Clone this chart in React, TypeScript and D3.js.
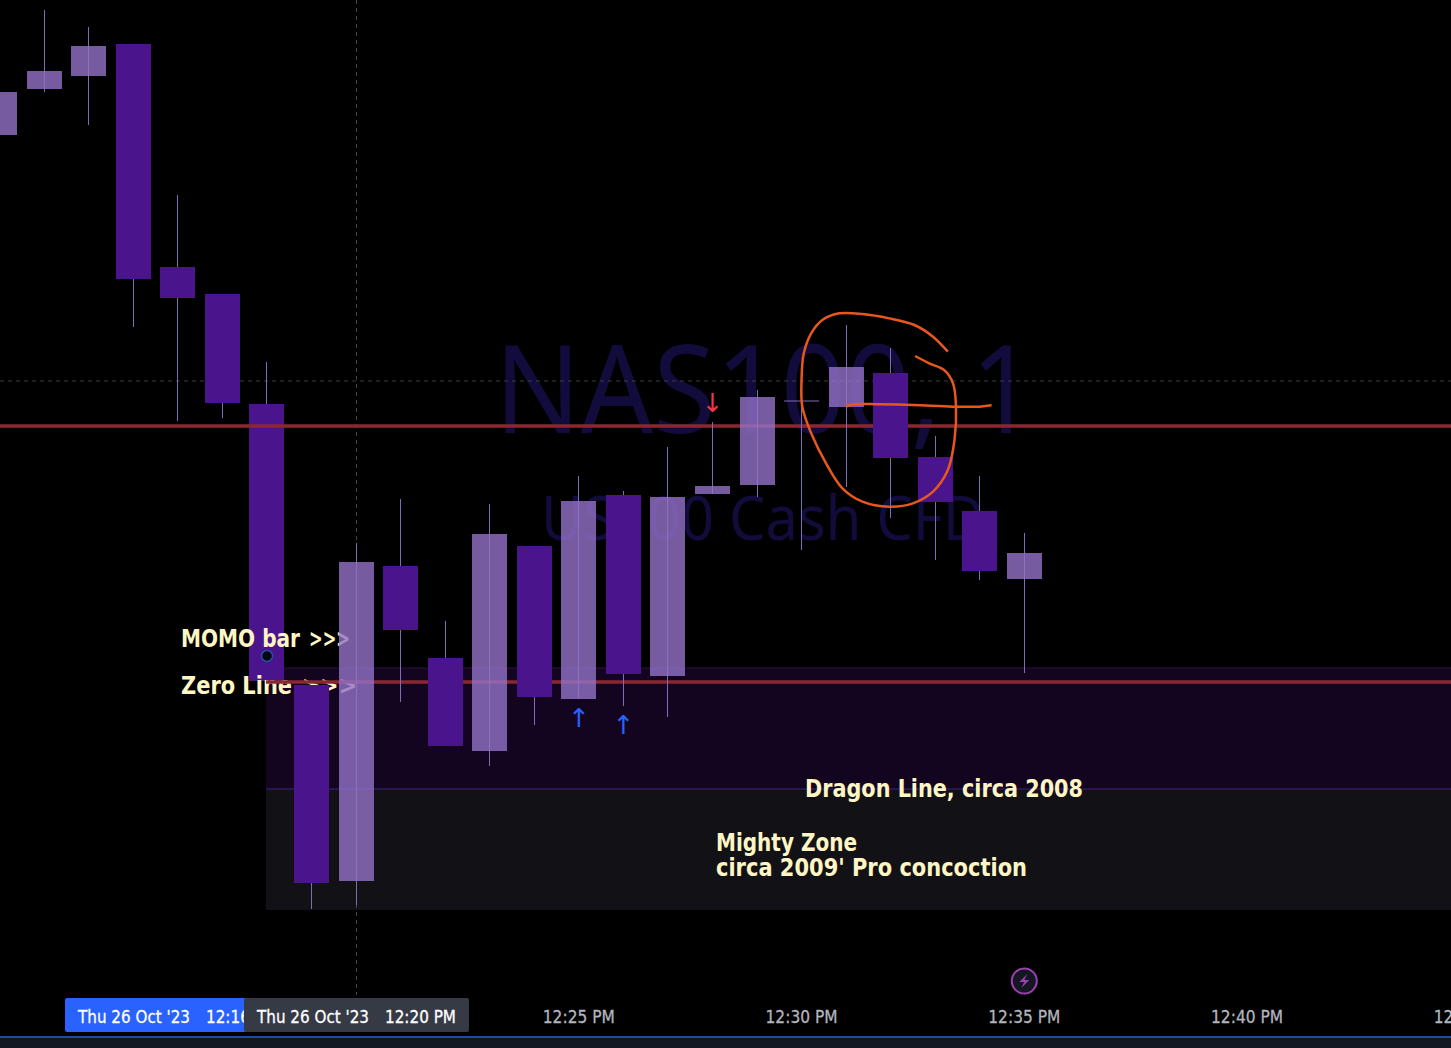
import * as d3 from "d3";

const WIDTH = 1451;
const HEIGHT = 1048;

// minutes after 12:00, one candle per minute
const minutes = [12, 13, 14, 15, 16, 17, 18, 19, 20, 21, 22, 23, 24, 25, 26, 27, 28, 29, 30, 31, 32, 33, 34, 35];
const opens = [14573.0, 14582.2, 14584.8, 14591.2, 14546.6, 14541.2, 14519.2, 14463.0, 14423.8, 14486.8, 14468.4, 14449.8, 14490.8, 14460.2, 14501.0, 14464.8, 14501.2, 14503.0, 14519.8, 14518.6, 14525.4, 14508.6, 14497.8, 14484.2];
const closes = [14581.6, 14585.8, 14590.8, 14544.2, 14540.4, 14519.4, 14463.8, 14423.4, 14487.6, 14474.0, 14450.8, 14493.2, 14460.6, 14499.8, 14465.2, 14500.6, 14502.8, 14520.6, 14519.8, 14526.6, 14508.4, 14499.6, 14485.8, 14489.4];
const highs = [14581.6, 14598.0, 14594.6, 14591.2, 14561.0, 14541.2, 14527.6, 14463.0, 14491.4, 14500.2, 14475.8, 14499.2, 14490.8, 14504.8, 14501.8, 14510.6, 14515.6, 14522.0, 14519.8, 14535.0, 14530.4, 14512.8, 14504.8, 14493.4];
const lows = [14573.0, 14581.6, 14575.0, 14534.6, 14515.8, 14516.4, 14463.8, 14418.2, 14419.0, 14459.6, 14450.8, 14446.8, 14455.0, 14460.2, 14458.8, 14456.6, 14501.2, 14500.6, 14490.0, 14502.6, 14496.4, 14488.0, 14484.0, 14465.4];

const upperLevel = 14514.8;
const zeroLevel = 14463.6;
const dragonTop = 14466.4;
const dragonLine = 14442.2;
const mightyBottom = 14418.0;
const zoneStartMinute = 18;
const crosshairPrice = 14523.8;

const tickMinutes = [25, 30, 35, 40, 45];

// hand drawn marks, minute + price
const loopMinutes = [33.29, 32.95, 32.54, 31.98, 31.38, 30.86, 30.48, 30.22, 30.05, 30.0, 30.03, 30.22, 30.56, 30.93, 31.38, 31.98, 32.5, 32.95, 33.29, 33.44, 33.47, 33.4, 33.21, 32.88, 32.56];
const loopPrices = [14529.67, 14532.67, 14535, 14536.33, 14537.2, 14537.33, 14536, 14533.33, 14529.33, 14524, 14518.67, 14513.33, 14507.33, 14502.33, 14499.67, 14498.67, 14499.33, 14501.67, 14506, 14512, 14518.67, 14523.33, 14526, 14527.33, 14528.8];
const strokeMinutes = [31.0, 31.15, 31.75, 32.5, 33.4, 34.0, 34.28];
const strokePrices = [14518.67, 14519.13, 14519.13, 14519, 14518.67, 14518.67, 14518.93];

const MARK_FONT = "'Noto Sans', sans-serif";
const LABEL_FONT = "'DejaVu Sans', sans-serif";
const NOTE = "#fff6c4";
const LIGHT = "#9472c8";
const DARK = "#4a148c";
const WICK = "#7f6bb8";
const RED = "#8a2832";

const at = (m: number) => new Date(2023, 9, 26, 12, 0, m * 60);

export default function App() {
  const x = d3
    .scaleTime()
    .domain([at(12), at(45)])
    .range([-0.35, 1469.8]);
  const y = d3.scaleLinear().domain([14600, 14390.4]).range([0, HEIGHT]);
  const barWidth = 35;
  const fmt = d3.timeFormat("%-I:%M %p");

  const px = (m: number) => x(at(m));
  const zoneX = Math.floor(px(zoneStartMinute));

  const scribble = d3
    .line<[number, number]>()
    .x((d) => px(d[0]))
    .y((d) => y(d[1]))
    .curve(d3.curveCatmullRom);

  const candle = (m: number, i: number) => {
    const up = closes[i] >= opens[i];
    const cx = Math.floor(px(m)) + 0.5;
    const top = y(Math.max(opens[i], closes[i]));
    const bottom = y(Math.min(opens[i], closes[i]));
    return (
      <g key={m}>
        <line x1={cx} x2={cx} y1={y(highs[i])} y2={y(lows[i])} stroke={WICK} strokeWidth={1} />
        {top === bottom ? (
          <line x1={cx - barWidth / 2} x2={cx + barWidth / 2} y1={top} y2={top} stroke={WICK} strokeWidth={1} />
        ) : (
          <rect
            x={cx - barWidth / 2}
            y={top}
            width={barWidth}
            height={bottom - top}
            fill={up ? LIGHT : DARK}
            fillOpacity={up ? 0.8 : 1}
          />
        )}
      </g>
    );
  };

  const noteStyle = {
    fontFamily: LABEL_FONT,
    fontWeight: 700,
    fontSize: 24,
    fill: NOTE,
    lengthAdjust: "spacingAndGlyphs",
  };
  const axisStyle = {
    fontFamily: LABEL_FONT,
    fontSize: 17,
    stroke: "currentColor",
    strokeWidth: 0.3,
    lengthAdjust: "spacingAndGlyphs",
  };

  return (
    <svg
      width={WIDTH}
      height={HEIGHT}
      style={{ position: "absolute", left: 0, top: 0, display: "block", background: "#000" }}
    >
      <rect width={WIDTH} height={HEIGHT} fill="#000" />

      <g fontFamily={MARK_FONT} fill="#120c3c" textAnchor="middle">
        <text x={765} y={433} fontSize={122} textLength={541} lengthAdjust="spacingAndGlyphs">NAS100, 1</text>
        <text x={763} y={540} fontSize={62} textLength={444} lengthAdjust="spacingAndGlyphs">US100 Cash CFD</text>
      </g>

      <rect x={zoneX} y={y(dragonTop)} width={WIDTH} height={y(dragonLine) - y(dragonTop)} fill="#13051f" />
      <rect x={zoneX} y={y(dragonLine)} width={WIDTH} height={y(mightyBottom) - y(dragonLine)} fill="#121216" />
      <line x1={zoneX} x2={WIDTH} y1={y(dragonTop)} y2={y(dragonTop)} stroke="#2a1440" />
      <line x1={zoneX} x2={WIDTH} y1={y(dragonLine)} y2={y(dragonLine)} stroke="#3f1f80" />

      <line x1={356.5} x2={356.5} y1={0} y2={995} stroke="#45454a" strokeDasharray="4 4" />
      <line x1={0} x2={WIDTH} y1={y(crosshairPrice)} y2={y(crosshairPrice)} stroke="#3c3c40" strokeDasharray="4 4" />

      {minutes.slice(0, 7).map((m, i) => candle(m, i))}

      <text x={181} y={647} textLength={119} {...noteStyle}>MOMO bar</text>
      <text x={309} y={647} textLength={41} {...noteStyle}>&gt;&gt;&gt;</text>
      <text x={181} y={694} textLength={111} {...noteStyle}>Zero Line</text>
      <text x={302} y={694} textLength={55} {...noteStyle}>&gt;&gt;&gt;</text>

      <line x1={0} x2={WIDTH} y1={y(upperLevel)} y2={y(upperLevel)} stroke={RED} strokeWidth={3.5} />
      <line x1={zoneX} x2={WIDTH} y1={y(zeroLevel)} y2={y(zeroLevel)} stroke={RED} strokeWidth={3.5} />
      <circle cx={267} cy={656} r={5.5} fill="#05070f" stroke="#2350a8" strokeWidth={1.5} />

      {minutes.slice(7).map((m, i) => candle(m, i + 7))}

      <text x={px(28)} y={412} fontSize={26} fill="#f23645" textAnchor="middle" fontFamily="'DejaVu Sans'">↓</text>
      <text x={px(25)} y={727} fontSize={26} fill="#2962ff" textAnchor="middle" fontFamily="'DejaVu Sans'">↑</text>
      <text x={px(26)} y={734} fontSize={26} fill="#2962ff" textAnchor="middle" fontFamily="'DejaVu Sans'">↑</text>

      <text x={805} y={797} textLength={278} {...noteStyle}>Dragon Line, circa 2008</text>
      <text x={716} y={851} textLength={141} {...noteStyle}>Mighty Zone</text>
      <text x={716} y={876} textLength={311} {...noteStyle}>circa 2009' Pro concoction</text>

      <path
        d={scribble(loopMinutes.map((m, i) => [m, loopPrices[i]] as [number, number])) ?? ""}
        fill="none"
        stroke="#e8581c"
        strokeWidth={2.5}
      />
      <path
        d={scribble(strokeMinutes.map((m, i) => [m, strokePrices[i]] as [number, number])) ?? ""}
        fill="none"
        stroke="#e8581c"
        strokeWidth={2.5}
      />

      <g transform={`translate(${px(35)},981)`}>
        <circle r={12.5} fill="#131722" stroke="#a03fb5" strokeWidth={2} />
        <path d={d3.line()([[3, -7], [-5, 1], [0, 1], [-3, 7], [5, -1], [0, -1], [3, -7]]) ?? ""} fill="#a03fb5" />
      </g>

      <g fill="#b2b5be" color="#b2b5be" textAnchor="middle">
        {tickMinutes.map((m) => (
          <text key={m} x={px(m)} y={1023} textLength={72} {...axisStyle}>{fmt(at(m))}</text>
        ))}
      </g>

      <g color="#fff">
        <rect x={65} y={998} width={200} height={34} rx={2} fill="#2962ff" />
        <text x={78} y={1023} textLength={112} fill="#fff" {...axisStyle}>Thu 26 Oct '23</text>
        <text x={206} y={1023} textLength={71} fill="#fff" {...axisStyle}>12:16 PM</text>
        <rect x={244} y={998} width={225} height={34} rx={2} fill="#363a45" />
        <text x={257} y={1023} textLength={112} fill="#fff" {...axisStyle}>Thu 26 Oct '23</text>
        <text x={385} y={1023} textLength={71} fill="#fff" {...axisStyle}>12:20 PM</text>
      </g>

      <rect x={0} y={1036} width={WIDTH} height={12} fill="#131722" />
      <rect x={0} y={1036} width={WIDTH} height={2} fill="#1e49a8" />
    </svg>
  );
}
